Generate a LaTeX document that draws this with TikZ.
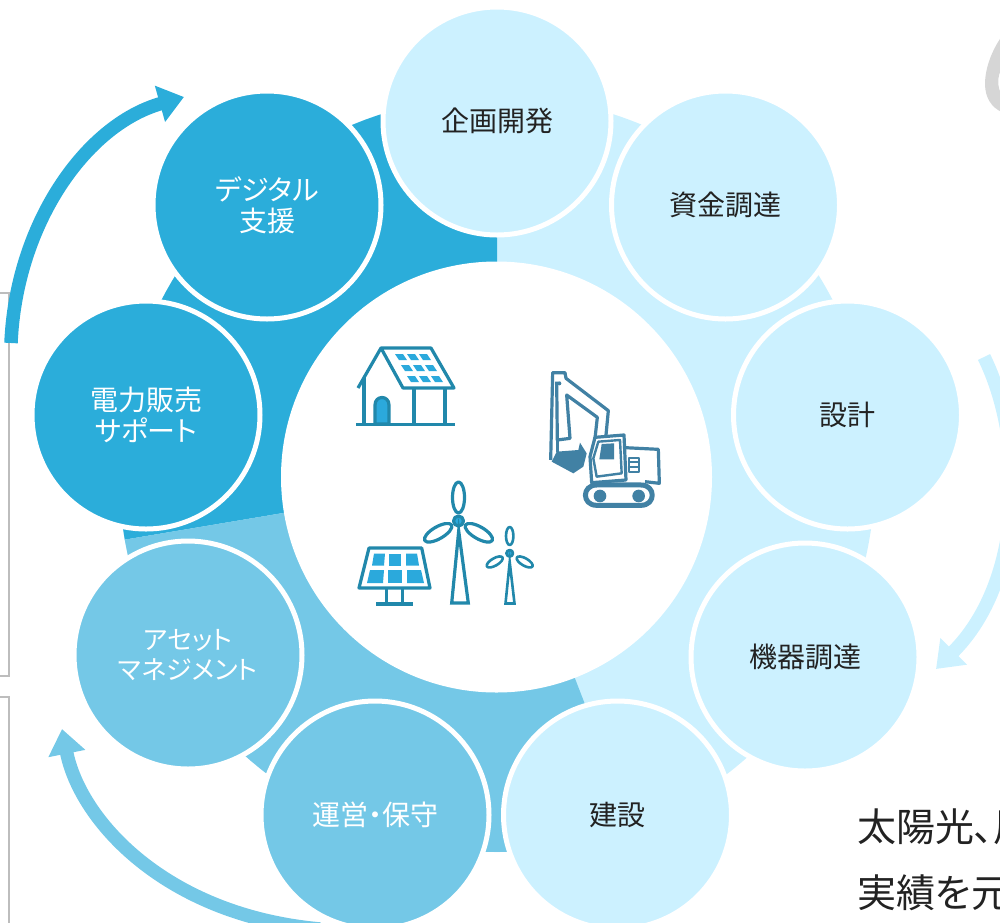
\documentclass[tikz,border=0pt]{standalone}
\usepackage{fontspec}
\setmainfont{Noto Sans CJK JP}
\newfontfamily\jppalt[RawFeature=+palt]{Noto Sans CJK JP}
\usepackage{xcolor}
\usetikzlibrary{arrows.meta}
\definecolor{darkblue}{HTML}{2BADDA}
\definecolor{midblue}{HTML}{74C8E7}
\definecolor{lightblue}{HTML}{CCF1FF}
\definecolor{iconteal}{HTML}{2188AB}
\definecolor{iconsteel}{HTML}{4181A4}
\definecolor{iconcell}{HTML}{2BA9DC}
\definecolor{boxgray}{HTML}{BDBDBD}
\definecolor{inktext}{HTML}{222222}
\tikzset{
  stage/.style={circle, draw=white, line width=5pt, minimum size=228pt, inner sep=0pt, align=center,
    font=\fontsize{28}{31}\selectfont\jppalt},
  darkstage/.style={stage, fill=darkblue, text=white},
  midstage/.style={stage, fill=midblue, text=white},
  lightstage/.style={stage, fill=lightblue, text=inktext},
  flow/.style={line width=13.5pt, -{Triangle[width=36pt,length=25pt]}},
  iconline/.style={draw=iconteal, line width=3.2pt, line join=round},
  digline/.style={draw=iconsteel, line width=3.2pt, line join=round},
  bodytext/.style={anchor=base west, inner sep=0pt, text=inktext, font=\fontsize{39}{39}\selectfont\jppalt}
}
\begin{document}
\begin{tikzpicture}[x=1pt,y=-1pt]
  \useasboundingbox (0,0) rectangle (1000,922);
  % side frames and the grey curl
  \draw[boxgray, line width=1.5pt] (0,293) -- (9,293) -- (9,676) -- (0,676);
  \draw[boxgray, line width=1.5pt] (0,697) -- (9,697) -- (9,930);
  \fill[black!16] (1002,36) .. controls (992,50) and (985,68) .. (985,84)
    .. controls (985,98) and (992,108) .. (1002,112) -- (1002,95)
    .. controls (997,88) and (997,76) .. (1002,68) -- cycle;
  % ring
  \fill[lightblue] (497,474) circle (378);
  \fill[darkblue] (497,477) -- plot[domain=90:190,samples=50] ({497+378*cos(\x)},{474-378*sin(\x)}) -- cycle;
  \fill[midblue] (497,477) -- plot[domain=190:291,samples=50] ({497+378*cos(\x)},{474-378*sin(\x)}) -- cycle;
  \node[circle, fill=white, minimum size=431pt, inner sep=0pt] (hub) at (496.5,477) {};
  % stages
  \node[lightstage] (plan) at (497,121) {企画開発};
  \node[lightstage] (fund) at (725.5,205) {資金調達};
  \node[lightstage] (design) at (847.5,415) {設計};
  \node[lightstage] (equip) at (805,657) {機器調達};
  \node[lightstage] (build) at (617.5,815) {建設};
  \node[midstage] (operate) at (375,815) {運営・保守};
  \node[midstage, font=\fontsize{26}{30}\selectfont\jppalt] (asset) at (188,655) {アセット\\マネジメント};
  \node[darkstage] (sales) at (146,415) {電力販売\\サポート};
  \node[darkstage] (digital) at (267,205) {デジタル\\支援};
  % arrows round the ring
  \coordinate (d0) at (11,343);
  \coordinate (d1) at (184,97);
  \coordinate (l0) at (984,357);
  \coordinate (l1) at (936,669);
  \coordinate (m0) at (320,929);
  \coordinate (m1) at (62,729);
  \draw[flow, darkblue] (d0) .. controls (16,225) and (85,125) .. (d1);
  \draw[flow, lightblue] (l0) .. controls (1025,440) and (1025,580) .. (l1);
  \draw[flow, midblue] (m0) .. controls (165,915) and (80,820) .. (m1);
  % house
  \draw[iconline] (356,424.5) -- (455,424.5);
  \draw[iconline] (358,388) -- (381,348) -- (431,348) -- (454,388) -- (403,388) -- (381,348);
  \draw[iconline] (364,378) -- (364,424) (414,388) -- (414,424) (445,388) -- (445,424);
  \draw[iconline, fill=iconcell] (375,424) -- (375,405) .. controls (375,395) and (389,395) .. (389,405) -- (389,424) -- cycle;
  \foreach \r in {0,1,2}
    \foreach \c in {0,1,2}
      \fill[iconcell] ({395+12*\c+6*\r},{354+11*\r}) -- ++(8,0) -- ++(4,6) -- ++(-8,0) -- cycle;
  % turbines
  \foreach \a in {0,120,240}
    \draw[iconline, rotate around={\a:(458.5,521)}] (458.5,497.5) ellipse (6 and 15.5);
  \draw[iconline, fill=iconcell] (458.5,521) circle (5);
  \draw[iconline, miter limit=20, line join=miter] (458.7,531) -- (468.3,603) -- (451.7,603) -- cycle;
  \foreach \a in {0,120,240}
    \draw[iconline, line width=2.6pt, rotate around={\a:(509.7,553.3)}] (509.7,536) ellipse (3.7 and 9);
  \draw[iconline, line width=2.6pt, fill=iconcell] (509.7,553.3) circle (3.3);
  \draw[iconline, line width=2.6pt, miter limit=20, line join=miter] (509.7,562) -- (514.5,603.5) -- (505.5,603.5) -- cycle;
  % solar panel
  \draw[iconline] (369,548) -- (421.7,548) -- (430,588) -- (359,588) -- cycle;
  \draw[iconline] (386.7,588) -- (386.7,604) (402.7,588) -- (402.7,604) (376,604) -- (413,604);
  \foreach \a/\b/\c/\d/\e/\f in {374/385/384/372/553.5/565.5, 389/401/401/389/553.5/565.5, 406/417/419/406/553.5/565.5,
      370/384/383/367/570/583, 388/402/402/388/570/583, 407/421/424/407/570/583}
    \fill[iconcell] (\a,\e) -- (\b,\e) -- (\c,\f) -- (\d,\f) -- cycle;
  % excavator
  \begin{scope}[shift={(540,360)},x=0.3333pt,y=-0.3333pt]
    \fill[iconsteel] (50,275) -- (115,270) -- (120,248) -- (140,280) -- (130,320) -- (100,340) -- (35,305) -- cycle;
    \draw[digline] (32,300) -- (38,38) -- (75,38) -- (78,55) -- (205,152) -- (198,225);
    \draw[digline] (50,65) -- (52,240) -- (90,235) -- (80,105) -- (172,172) -- (165,235);
    \draw[digline] (52,240) -- (52,275);
    \fill[iconsteel] (58,70) circle (6);
    \draw[digline] (150,290) -- (165,232) -- (252,225) -- (258,360) -- (155,368) -- cycle;
    \draw[digline, line width=2.4pt] (175,245) -- (240,240) -- (245,340) -- (170,350) -- (160,295) -- cycle;
    \fill[iconsteel] (185,252) -- (222,250) -- (222,298) -- (178,298) -- cycle;
    \draw[digline] (255,263) -- (355,268) -- (358,370) -- (315,365);
    \draw[digline, line width=2pt] (268,293) rectangle (296,335) (268,307) -- (296,307) (268,321) -- (296,321);
    \draw[digline, line width=5pt] (170,375) -- (303,375) .. controls (348,375) and (348,436) .. (303,436)
      -- (170,436) .. controls (125,436) and (125,375) .. (170,375) -- cycle;
    \fill[iconsteel] (180,408) circle (19) (296,408) circle (19);
  \end{scope}
  % text cut off by the page
  \node[bodytext] (line1) at (857,841) {太陽光、風};
  \node[bodytext] (line2) at (857,907) {実績を元};
\end{tikzpicture}
\end{document}
